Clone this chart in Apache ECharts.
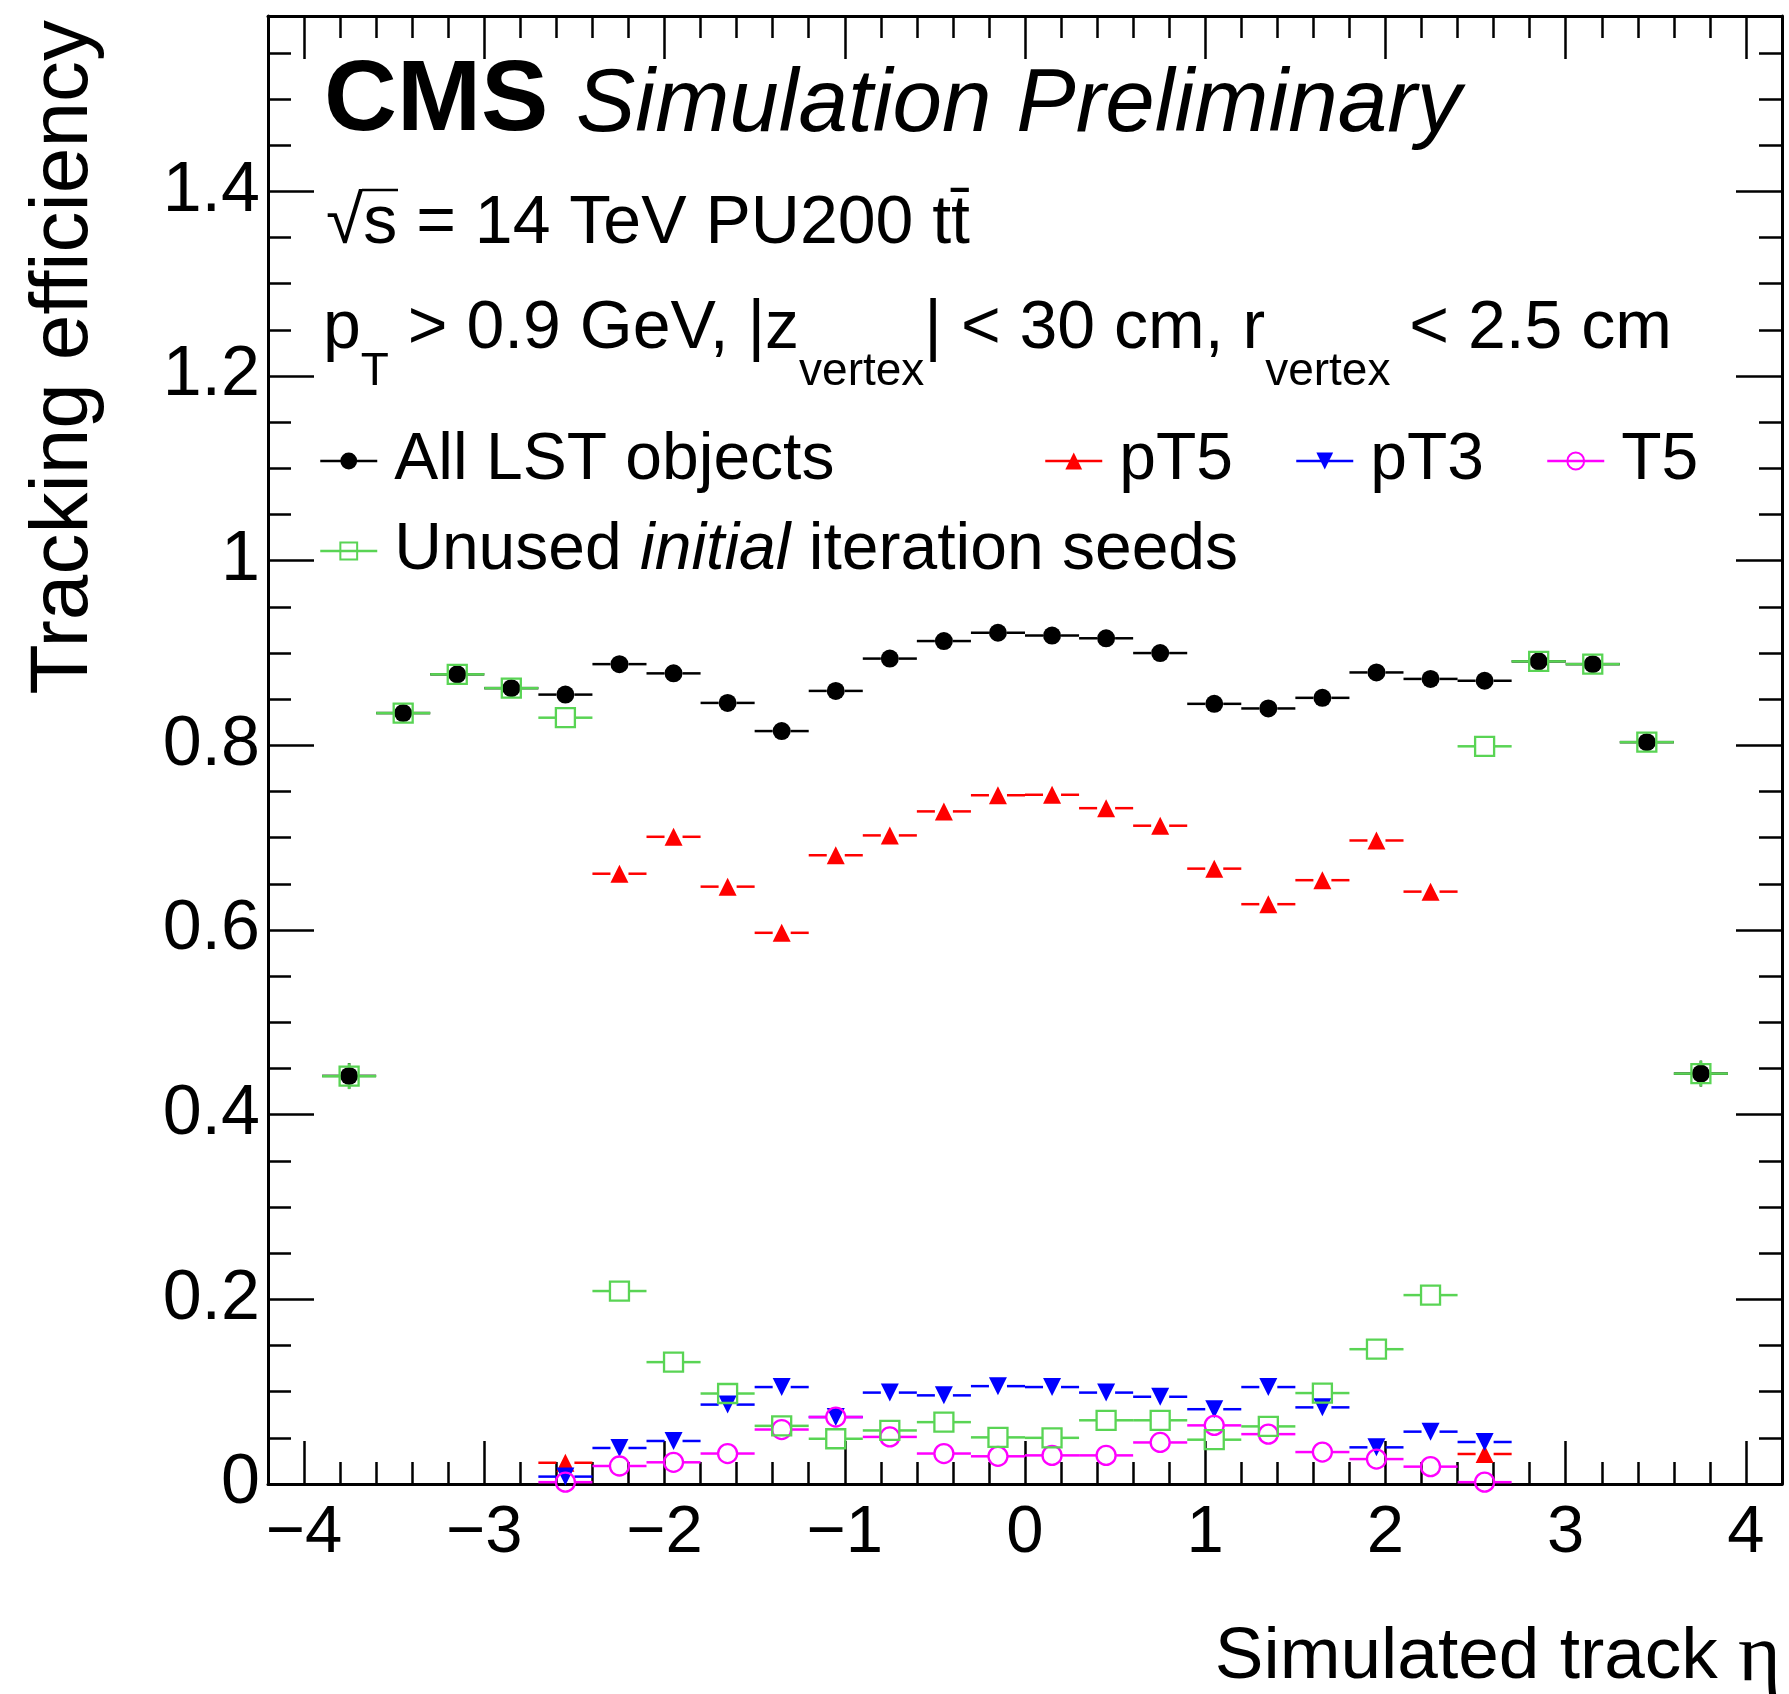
<!DOCTYPE html>
<html>
<head>
<meta charset="utf-8">
<script src="https://cdn.jsdelivr.net/npm/echarts@6/dist/echarts.min.js"></script>
<style>
html, body { margin: 0; padding: 0; background: #fff; }
#chart { width: 1789px; height: 1694px; }
</style>
</head>
<body>
<div id="chart"></div>
<script>
// ---- data ----
const etaCenters = [-3.75, -3.45, -3.15, -2.85, -2.55, -2.25, -1.95, -1.65, -1.35, -1.05, -0.75, -0.45, -0.15,
                     0.15, 0.45, 0.75, 1.05, 1.35, 1.65, 1.95, 2.25, 2.55, 2.85, 3.15, 3.45, 3.75];
const binHalfWidth = 0.15;

const allLST = [0.442, 0.835, 0.877, 0.862, 0.855, 0.888, 0.878, 0.846, 0.8155, 0.859, 0.894, 0.913, 0.922,
                0.919, 0.916, 0.900, 0.845, 0.840, 0.8515, 0.879, 0.872, 0.870, 0.891, 0.888, 0.8035, 0.4445];
const allLSTErr = [0.014, 0, 0, 0, 0, 0, 0, 0, 0, 0, 0, 0, 0, 0, 0, 0, 0, 0, 0, 0, 0, 0, 0, 0, 0, 0.014];

const pT5 = [null, null, null, null, 0.023, 0.661, 0.701, 0.647, 0.597, 0.681, 0.7025, 0.7285, 0.746,
             0.7465, 0.732, 0.713, 0.6665, 0.628, 0.654, 0.697, 0.6416, 0.0325, null, null, null, null];

const pT3 = [null, null, null, null, 0.008, 0.039, 0.0466, 0.086, 0.105, 0.0725, 0.099, 0.096, 0.106,
             0.105, 0.099, 0.0945, 0.081, 0.105, 0.083, 0.0397, 0.0567, 0.0455, null, null, null, null];

const T5 = [null, null, null, null, 0.002, 0.0195, 0.0235, 0.033, 0.059, 0.0725, 0.051, 0.033, 0.030,
            0.031, 0.031, 0.045, 0.0635, 0.054, 0.0346, 0.027, 0.0188, 0.002, null, null, null, null];

const unusedSeeds = [0.4417, 0.835, 0.877, 0.862, 0.830, 0.209, 0.132, 0.098, 0.063, 0.049, 0.058, 0.067, 0.0505,
                     0.050, 0.069, 0.069, 0.048, 0.0624, 0.0985, 0.146, 0.2046, 0.799, 0.891, 0.888, 0.8035, 0.4445];
const unusedSeedsErr = [0.014, 0, 0, 0, 0, 0, 0, 0, 0, 0, 0, 0, 0, 0, 0, 0, 0, 0, 0, 0, 0, 0, 0, 0, 0, 0.014];

const seriesNames = ['All LST objects', 'pT5', 'pT3', 'T5', 'Unused initial iteration seeds'];

// ---- styling ----
const FONT = "'Liberation Sans', Arial, Helvetica, sans-serif";
const SERIF = "'Liberation Serif', 'DejaVu Serif', serif";
const COLORS = { all: '#000000', pT5: '#ff0000', pT3: '#0000ff', T5: '#ff00ff', unused: '#59d454' };

function pairs(values, errs) {
  const out = [];
  etaCenters.forEach((x, i) => {
    if (values[i] != null) out.push([x, values[i], errs ? errs[i] : 0]);
  });
  return out;
}

function barSeries(name, values, errs, color, gap) {
  return {
    type: 'custom', name: name + ' (bars)', xAxisIndex: 0, yAxisIndex: 0, silent: true,
    data: pairs(values, errs), encode: { x: 0, y: 1 },
    renderItem: function (params, api) {
      const x = api.value(0), y = api.value(1), e = api.value(2);
      const c = api.coord([x, y]);
      const l = api.coord([x - binHalfWidth, y]);
      const r = api.coord([x + binHalfWidth, y]);
      const st = { stroke: color, lineWidth: 2.5 };
      const ch = [];
      if (c[0] - gap > l[0]) ch.push({ type: 'line', shape: { x1: l[0], y1: c[1], x2: c[0] - gap, y2: c[1] }, style: st });
      if (r[0] > c[0] + gap) ch.push({ type: 'line', shape: { x1: c[0] + gap, y1: c[1], x2: r[0], y2: c[1] }, style: st });
      if (e > 0) {
        const t = api.coord([x, y + e]), b = api.coord([x, y - e]);
        if (t[1] < c[1] - gap) ch.push({ type: 'line', shape: { x1: c[0], y1: t[1], x2: c[0], y2: c[1] - gap }, style: st });
        if (b[1] > c[1] + gap) ch.push({ type: 'line', shape: { x1: c[0], y1: c[1] + gap, x2: c[0], y2: b[1] }, style: st });
      }
      return { type: 'group', children: ch };
    }
  };
}

function markerSeries(name, values, color, symbol, size, filled, rotate) {
  return {
    type: 'line', name: name, xAxisIndex: 0, yAxisIndex: 0, silent: true,
    data: pairs(values).map(d => [d[0], d[1]]),
    symbol: symbol, symbolSize: size, symbolRotate: rotate || 0, showSymbol: true,
    lineStyle: { width: 0, opacity: 0, color: color },
    itemStyle: filled ? { color: color, borderWidth: 0 }
                      : { color: 'rgba(0,0,0,0)', borderColor: color, borderWidth: 2.3 },
    emphasis: { disabled: true }
  };
}

const axisLineStyle = { color: '#000', width: 3 };
const tickStyle = { color: '#000', width: 2.5 };

function xAxisCfg(pos, showLabel) {
  return {
    type: 'value', position: pos, gridIndex: 0, min: -4.2, max: 4.2, splitNumber: 8, minInterval: 1, maxInterval: 1,
    axisLine: { show: true, onZero: false, lineStyle: axisLineStyle },
    axisTick: { show: true, inside: true, length: 43, lineStyle: tickStyle },
    minorTick: { show: true, splitNumber: 5, length: 22, lineStyle: tickStyle },
    splitLine: { show: false }, minorSplitLine: { show: false },
    axisLabel: {
      show: showLabel, margin: 16, color: '#000', fontFamily: FONT, fontSize: 67,
      formatter: function (v) {
        if (Math.abs(v - Math.round(v)) > 1e-6) return '';
        const n = Math.round(v);
        return (n < 0 ? '\u2212' : '') + Math.abs(n);
      }
    }
  };
}

function yAxisCfg(pos, showLabel) {
  return {
    type: 'value', position: pos, gridIndex: 0, min: 0, max: 1.59, interval: 0.2,
    axisLine: { show: true, onZero: false, lineStyle: axisLineStyle },
    axisTick: { show: true, inside: true, length: 46, lineStyle: tickStyle },
    minorTick: { show: true, splitNumber: 4, length: 23, lineStyle: tickStyle },
    splitLine: { show: false }, minorSplitLine: { show: false },
    axisLabel: {
      show: showLabel, margin: 8, color: '#000', fontFamily: FONT, fontSize: 70,
      formatter: function (v) { return v > 1.5 ? '' : String(+v.toFixed(1)); }
    }
  };
}

const legendCommon = {
  orient: 'horizontal', padding: 0, itemGap: 0, itemWidth: 57, itemHeight: 21, selectedMode: false,
  lineStyle: { width: 2.5, opacity: 1 },
  textStyle: { color: '#000', fontFamily: FONT, fontSize: 66, lineHeight: 70, padding: [0, 0, 0, 12],
    rich: {
      n: { color: '#000', fontFamily: FONT, fontSize: 66, lineHeight: 70 },
      i: { color: '#000', fontFamily: FONT, fontSize: 66, lineHeight: 70, fontStyle: 'italic' }
    }
  }
};

const option = {
  animation: false,
  backgroundColor: '#ffffff',
  grid: { left: 268, top: 16, right: 7, bottom: 210, containLabel: false },
  xAxis: [xAxisCfg('bottom', true), xAxisCfg('top', false)],
  yAxis: [yAxisCfg('left', true), yAxisCfg('right', false)],
  legend: [
    Object.assign({}, legendCommon, { data: [seriesNames[0]], left: 319, top: 426 }),
    Object.assign({}, legendCommon, { data: [seriesNames[1]], left: 1044, top: 426 }),
    Object.assign({}, legendCommon, { data: [seriesNames[2]], left: 1295, top: 426 }),
    Object.assign({}, legendCommon, { data: [seriesNames[3]], left: 1546, top: 426 }),
    Object.assign({}, legendCommon, { data: [seriesNames[4]], left: 319, top: 516,
      formatter: function () { return '{n|Unused }{i|initial}{n| iteration seeds}'; } })
  ],
  series: [
    barSeries(seriesNames[0], allLST, allLSTErr, COLORS.all, 9),
    markerSeries(seriesNames[0], allLST, COLORS.all, 'circle', 18, true),
    barSeries(seriesNames[1], pT5, null, COLORS.pT5, 9),
    markerSeries(seriesNames[1], pT5, COLORS.pT5, 'triangle', 18, true),
    barSeries(seriesNames[2], pT3, null, COLORS.pT3, 9),
    markerSeries(seriesNames[2], pT3, COLORS.pT3, 'triangle', 18, true, 180),
    barSeries(seriesNames[3], T5, null, COLORS.T5, 10),
    markerSeries(seriesNames[3], T5, COLORS.T5, 'circle', 19, false),
    barSeries(seriesNames[4], unusedSeeds, unusedSeedsErr, COLORS.unused, 10),
    markerSeries(seriesNames[4], unusedSeeds, COLORS.unused, 'rect', 19, false)
  ],
  graphic: [
    { type: 'text', x: 324, y: 102, silent: true,
      style: { text: 'CMS', fontFamily: FONT, fontWeight: 'bold', fontSize: 101, fill: '#000', align: 'left', verticalAlign: 'middle' } },
    { type: 'text', x: 576, y: 106, silent: true,
      style: { text: 'Simulation Preliminary', fontFamily: FONT, fontStyle: 'italic', fontSize: 89, fill: '#000', align: 'left', verticalAlign: 'middle' } },
    { type: 'text', x: 326, y: 224, silent: true,
      style: { text: '\u221As = 14 TeV PU200 tt\u0304', fontFamily: FONT, fontSize: 68, fill: '#000', align: 'left', verticalAlign: 'middle' } },
    { type: 'line', silent: true, shape: { x1: 362, y1: 190, x2: 398, y2: 190 }, style: { stroke: '#000', lineWidth: 2.5 } },
    { type: 'text', x: 323, y: 295, silent: true,
      style: {
        text: '{m|p}{s|T}{m| > 0.9 GeV, |z}{s|vertex}{m|| < 30 cm, r}{s|vertex}{m| < 2.5 cm}',
        align: 'left', verticalAlign: 'top',
        rich: {
          m: { fontFamily: FONT, fontSize: 68, lineHeight: 68, fill: '#000', verticalAlign: 'top' },
          s: { fontFamily: FONT, fontSize: 46, fill: '#000', padding: [54, 0, 0, 0], verticalAlign: 'bottom' }
        }
      } },
    { type: 'text', x: 1781, y: 1658, silent: true,
      style: {
        text: '{a|Simulated track }{b|\u03B7}', align: 'right', verticalAlign: 'middle',
        rich: {
          a: { fontFamily: FONT, fontSize: 73, fill: '#000' },
          b: { fontFamily: SERIF, fontSize: 82, fill: '#000' }
        }
      } },
    { type: 'text', x: 64, y: 20, rotation: Math.PI / 2, silent: true,
      style: { text: 'Tracking efficiency', fontFamily: FONT, fontSize: 82, fill: '#000', align: 'right', verticalAlign: 'middle' } }
  ]
};

const chart = echarts.init(document.getElementById('chart'), null, { renderer: 'canvas', width: 1789, height: 1694 });
chart.setOption(option);
</script>
</body>
</html>
